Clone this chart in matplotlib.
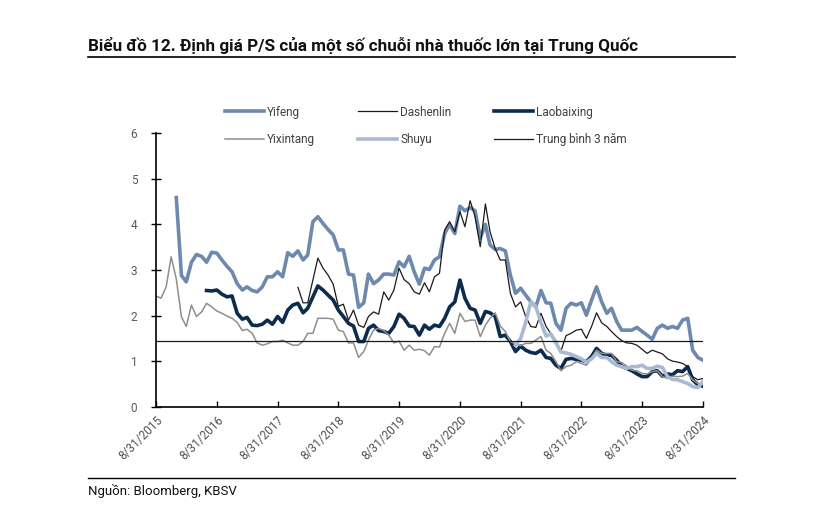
import numpy as np
import pandas as pd
import matplotlib
matplotlib.use('Agg')
import matplotlib.pyplot as plt
import matplotlib.dates as mdates
from matplotlib.lines import Line2D

plt.rcParams['font.family'] = ['Roboto', 'DejaVu Sans']

nan = np.nan
dates = pd.date_range('2015-08-31', '2024-08-31', freq='ME')

yifeng = [nan, nan, nan, nan, 4.59, 2.88, 2.74, 3.17, 3.34, 3.3, 3.17, 3.39, 3.37, 3.22, 3.08, 2.96,
          2.7, 2.56, 2.63, 2.55, 2.52, 2.63, 2.85, 2.85, 2.96, 2.85, 3.38, 3.3, 3.42, 3.22, 3.33, 4.06,
          4.17, 4.02, 3.89, 3.77, 3.44, 3.44, 2.91, 2.89, 2.18, 2.28, 2.91, 2.7, 2.78, 2.91, 2.91, 2.89,
          3.18, 3.07, 3.3, 2.96, 2.69, 3.04, 3.01, 3.22, 3.29, 3.8, 4.0, 3.8, 4.4, 4.3, 4.37, 4.3,
          3.7, 4.0, 3.55, 3.45, 3.47, 3.42, 2.89, 2.49, 2.6, 2.45, 2.3, 2.19, 2.55, 2.28, 2.27, 1.83,
          1.68, 2.16, 2.27, 2.23, 2.28, 2.01, 2.34, 2.63, 2.3, 2.05, 2.16, 1.87, 1.68, 1.68, 1.68, 1.74,
          1.65, 1.57, 1.48, 1.72, 1.79, 1.72, 1.76, 1.72, 1.9, 1.94, 1.24, 1.08, 1.02]

dashenlin = [nan] * 28 + [
          2.62, 2.28, 2.28, 2.78, 3.26, 3.04, 2.89, 2.69, 2.2, 2.25, 1.9, 2.12, 1.79, 1.74, 1.98, 2.08,
          2.03, 2.52, 2.34, 2.56, 3.04, 2.79, 2.7, 2.52, 2.47, 2.72, 2.52, 2.85, 2.93, 3.88, 4.06, 3.84,
          4.28, 3.95, 4.52, 4.17, 3.51, 4.45, 3.84, 3.47, 3.22, 3.22, 2.49, 2.19, 2.3, 1.98, 1.76, 1.74,
          2.05, 1.76, 1.6, 1.45, 1.22, 1.56, 1.61, 1.68, 1.7, 1.5, 1.76, 2.06, 1.84, 1.76, 1.65, 1.54,
          1.45, 1.4, 1.39, 1.35, 1.26, 1.17, 1.24, 1.2, 1.16, 1.05, 1.0, 0.98, 0.95, 0.88, 0.66, 0.59,
          0.62]

laobaixing = [nan] * 10 + [
          2.55, 2.54, 2.56, 2.47, 2.41, 2.43, 2.05, 1.92, 1.96, 1.79, 1.78, 1.81, 1.9, 1.81, 1.98, 1.85,
          2.12, 2.23, 2.27, 2.06, 2.16, 2.41, 2.65, 2.56, 2.45, 2.34, 2.12, 1.98, 1.83, 1.77, 1.43, 1.43,
          1.72, 1.79, 1.67, 1.65, 1.61, 1.76, 2.03, 1.94, 1.77, 1.76, 1.57, 1.79, 1.7, 1.79, 1.76, 1.94,
          2.19, 2.3, 2.78, 2.38, 2.16, 2.12, 1.83, 2.09, 2.06, 1.98, 1.54, 1.57, 1.43, 1.21, 1.33, 1.24,
          1.19, 1.17, 1.24, 1.08, 1.06, 0.91, 0.84, 1.04, 1.06, 1.04, 1.02, 0.99, 1.1, 1.28, 1.17, 1.13,
          1.13, 1.02, 0.89, 0.84, 0.79, 0.72, 0.66, 0.66, 0.77, 0.79, 0.67, 0.72, 0.7, 0.79, 0.77, 0.88,
          0.59, 0.48, 0.45]

yixintang = [2.43, 2.38, 2.63, 3.29, 2.8, 1.97, 1.76, 2.23, 1.98, 2.08, 2.27, 2.19, 2.1, 2.05, 1.99, 1.94,
          1.85, 1.67, 1.7, 1.61, 1.4, 1.35, 1.38, 1.43, 1.43, 1.46, 1.4, 1.35, 1.35, 1.43, 1.61, 1.61,
          1.94, 1.94, 1.94, 1.92, 1.68, 1.65, 1.4, 1.4, 1.08, 1.21, 1.46, 1.68, 1.72, 1.67, 1.57, 1.4,
          1.44, 1.24, 1.35, 1.24, 1.26, 1.23, 1.13, 1.32, 1.31, 1.61, 1.83, 1.61, 2.05, 1.87, 1.9, 1.9,
          1.54, 1.79, 1.94, 2.06, 1.77, 1.65, 1.43, 1.38, 1.34, 1.39, 1.39, 1.46, 1.54, 1.24, 1.17, 0.99,
          0.79, 0.88, 0.91, 0.99, 0.95, 0.91, 1.06, 1.24, 1.17, 1.17, 1.17, 0.99, 0.97, 0.89, 0.8, 0.79,
          0.73, 0.72, 0.77, 0.79, 0.66, 0.62, 0.67, 0.66, 0.67, 0.73, 0.59, 0.51, 0.51]

shuyu = [nan] * 71 + [
          1.35, 1.5, 1.85, 2.3, 2.2, 1.85, 1.55, 1.6, 1.4, 1.2, 1.18, 1.15, 1.1, 1.05, 0.98, 1.05,
          1.17, 1.08, 1.08, 0.99, 0.91, 0.88, 0.84, 0.88, 0.88, 0.91, 0.84, 0.84, 0.89, 0.86, 0.66, 0.6,
          0.59, 0.55, 0.51, 0.44, 0.42, 0.55]

avg_3y = 1.45

tick_dates = pd.date_range('2015-08-31', '2024-08-31', freq='12ME')

fig = plt.figure(figsize=(8.17, 5.21), dpi=100)
ax = fig.add_axes([156 / 817, 1 - 406.7 / 521, 547 / 817, 273.4 / 521])

ax.plot(dates, yifeng, color='#6D89AE', lw=2.6, label='Yifeng')
ax.plot(dates, dashenlin, color='#1A1A1A', lw=0.9, label='Dashenlin')
ax.plot(dates, laobaixing, color='#0B2C4E', lw=2.6, label='Laobaixing')
ax.plot(dates, yixintang, color='#8E8E8E', lw=1.1, label='Yixintang')
ax.plot(dates, shuyu, color='#A9B9D2', lw=2.6, label='Shuyu')
ax.axhline(avg_3y, color='#1A1A1A', lw=0.9, label='Trung bình 3 năm')

ax.set_xlim(dates[0], dates[-1])
ax.set_ylim(0, 6)
ax.set_yticks(range(0, 7))
ax.set_xticks(tick_dates)
ax.xaxis.set_major_formatter(mdates.DateFormatter('%-m/%d/%Y'))
for lbl in ax.get_xticklabels():
    lbl.set_rotation(45)
    lbl.set_ha('right')
    lbl.set_rotation_mode('anchor')

ax.tick_params(axis='y', direction='inout', length=7, width=1, labelsize=8.5,
               labelcolor='#595959', pad=10)
ax.tick_params(axis='x', direction='in', length=4, width=1, labelsize=8.5,
               labelcolor='#505050', pad=5)
for side in ['top', 'right']:
    ax.spines[side].set_visible(False)
for side in ['left', 'bottom']:
    ax.spines[side].set_linewidth(1.2)
    ax.spines[side].set_color('black')

h, l = ax.get_legend_handles_labels()
order = [0, 3, 1, 4, 2, 5]
fig.legend([h[i] for i in order], [l[i] for i in order], ncol=3, frameon=False,
           loc='upper left', bbox_to_anchor=(214 / 817, 1 - 95 / 521),
           fontsize=8.5, handlelength=3.3, handletextpad=0.3, columnspacing=3.6,
           labelspacing=1.25, labelcolor='#404040')

fig.text(88 / 817, 1 - 51 / 521, 'Biểu đồ 12. Định giá P/S của một số chuỗi nhà thuốc lớn tại Trung Quốc',
         fontsize=12.3, fontweight='bold', va='baseline', ha='left', color='#111111')
fig.add_artist(Line2D([88 / 817, 735 / 817], [1 - 57 / 521, 1 - 57 / 521], color='black', lw=1.2))
fig.add_artist(Line2D([88 / 817, 735 / 817], [1 - 478 / 521, 1 - 478 / 521], color='black', lw=1.0))
fig.text(88 / 817, 1 - 495 / 521, 'Nguồn: Bloomberg, KBSV', fontsize=9.5, va='baseline', ha='left',
         color='#111111')

fig.savefig('out.png', dpi=100)
